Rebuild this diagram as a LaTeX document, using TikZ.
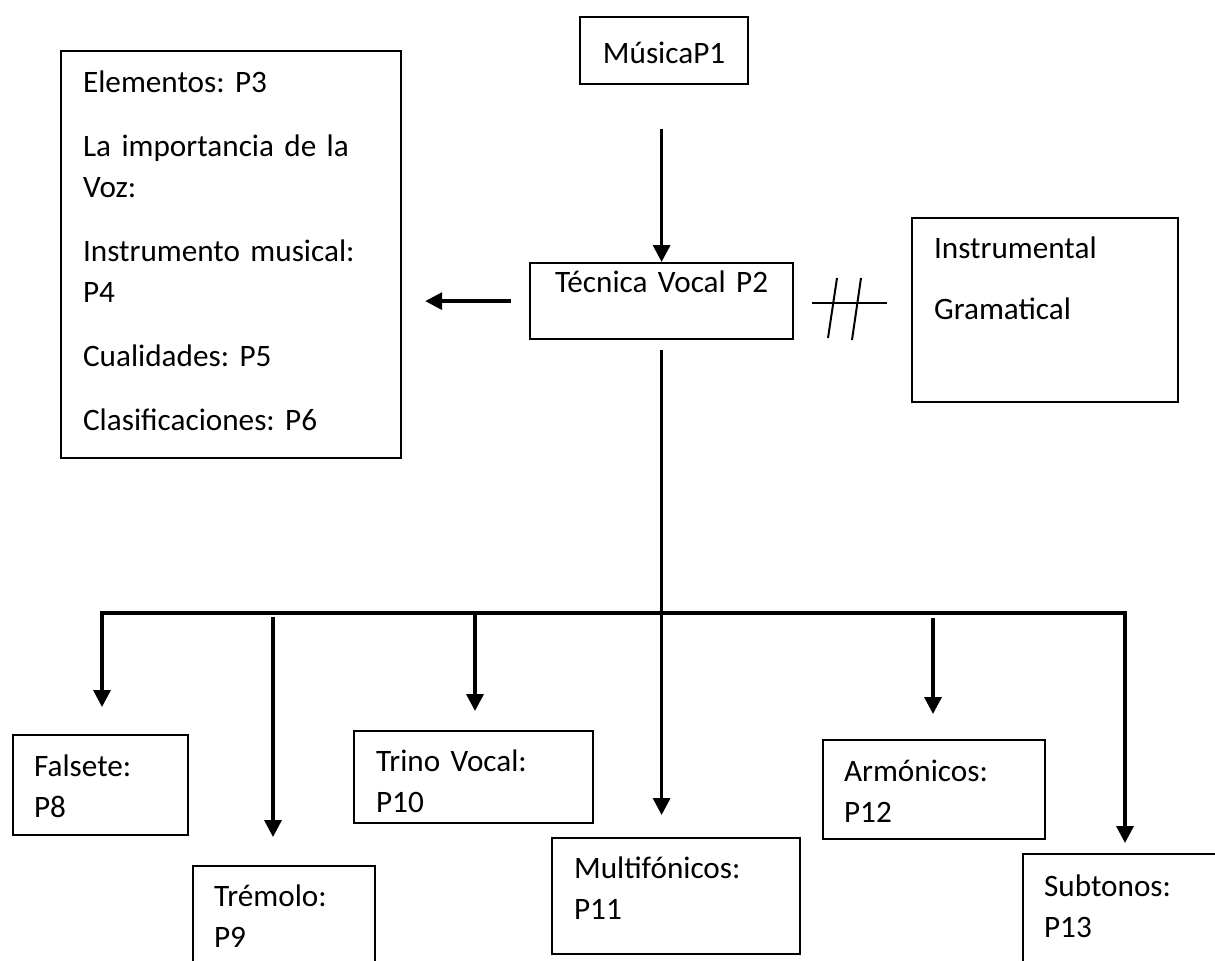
\documentclass[tikz,border=0pt]{standalone}
\usepackage{fontspec}
\setmainfont{Carlito}
\usetikzlibrary{arrows.meta,calc}
\frenchspacing
\begin{document}
\frenchspacing
\begin{tikzpicture}[x=0.5pt,y=-0.5pt,
  box/.style={draw, line width=1.1pt, anchor=north west, inner ysep=0pt,
    font=\fontsize{15.6pt}{20.5pt}\selectfont\frenchspacing},
  lbox/.style={box, align=left},
  cbox/.style={box, align=center},
  dims/.style n args={4}{inner xsep=#1, text width=#2, text height=#3, text depth=#4},
  conn/.style={line width=1.7pt, line cap=rect},
  arr/.style={line width=1.7pt, -{Triangle[length=8.5pt,width=8.5pt]}},
  hashline/.style={line width=1pt}]
\useasboundingbox (0,0) rectangle (1215,960);
\fill[white] (0,0) rectangle (1215,960);
\clip (0,0) rectangle (1215,960);

% boxes
\node[cbox, dims={5pt}{74pt}{23pt}{10.5pt}] (musica) at (579,16) {MúsicaP1};
\node[cbox, dims={5pt}{121.5pt}{14.5pt}{23.5pt}] (tecnica) at (529,262) {Técnica Vocal P2};
\node[lbox, dims={11pt}{148pt}{20.5pt}{183pt}] (elementos) at (60,50)
  {Elementos: P3\\[11.5pt]La importancia de la\\Voz:\\[11.5pt]Instrumento musical:\\P4\\[11.5pt]Cualidades: P5\\[11.5pt]Clasificaciones: P6};
\node[lbox, dims={11pt}{111pt}{20pt}{72pt}] (instr) at (911,217) {Instrumental\\[10pt]Gramatical};

\node[lbox, dims={10.5pt}{66.5pt}{20.5pt}{29.5pt}] (falsete) at (12,734) {Falsete:\\P8};
\node[lbox, dims={10.5pt}{70pt}{20pt}{47.5pt}] (tremolo) at (192,865) {Trémolo:\\P9};
\node[lbox, dims={11pt}{97.5pt}{20pt}{26pt}] (trino) at (353,730) {Trino Vocal:\\P10};
\node[lbox, dims={11pt}{102pt}{20pt}{38pt}] (multi) at (551,837) {Multifónicos:\\P11};
\node[lbox, dims={10.5pt}{90pt}{20.5pt}{29pt}] (armonicos) at (822,739) {Armónicos:\\P12};
\node[lbox, dims={10.5pt}{129pt}{21pt}{54pt}] (subtonos) at (1022,853) {Subtonos:\\P13};

% connectors
\draw[arr, shorten <=22pt] (tecnica.north |- musica.south) -- (tecnica.north);
\draw[arr, shorten <=9pt, shorten >=11.5pt] (tecnica.west) -- (elementos.east |- tecnica.west);

% "not equal" mark between Tecnica Vocal and the right box
\coordinate (hashA) at (812,303);
\coordinate (hashB) at (887,303);
\draw[hashline] (hashA) -- (hashB);
\coordinate (s1a) at (837,278);
\coordinate (s1b) at (828,338);
\coordinate (s2a) at (861,278);
\coordinate (s2b) at (852,340);
\draw[hashline] (s1a) -- (s1b);
\draw[hashline] (s2a) -- (s2b);

% trunk down to Multifonicos
\draw[arr, shorten <=5pt, shorten >=11pt] (tecnica.south) -- (tecnica.south |- multi.north);

% bus
\coordinate (busL) at (102,613);
\coordinate (busR) at (1125,613);
\coordinate (b2) at (273,613);
\coordinate (b3) at (475,613);
\coordinate (b5) at (933,613);
\draw[conn] (busL) -- (busR);
\draw[arr, shorten >=13.5pt] (busL) -- (busL |- falsete.north);
\draw[arr, shorten <=2pt, shorten >=14pt] (b2) -- (b2 |- tremolo.north);
\draw[arr, shorten >=9.5pt] (b3) -- (b3 |- trino.north);
\draw[arr, shorten <=2.5pt, shorten >=12.5pt] (b5) -- (b5 |- armonicos.north);
\draw[arr, shorten >=5pt] (busR) -- (busR |- subtonos.north);
\end{tikzpicture}
\end{document}
